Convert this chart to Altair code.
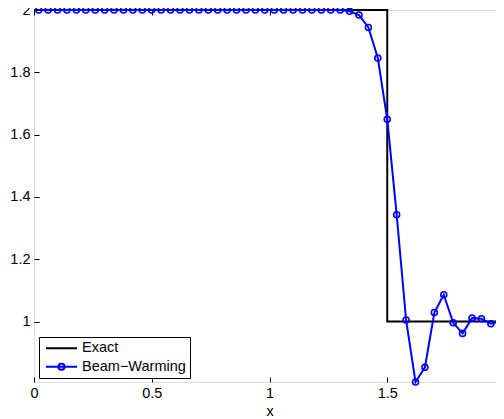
import altair as alt
import pandas as pd

series = ["Exact", "Beam\u2212Warming"]
series_colors = ["black", "blue"]

exact_x = [0.0, 1.5, 1.5, 2.0]
exact_y = [2.0, 2.0, 1.0, 1.0]

bw_x = [0.02, 0.06, 0.10, 0.14, 0.18, 0.22, 0.26, 0.30, 0.34, 0.38,
        0.42, 0.46, 0.50, 0.54, 0.58, 0.62, 0.66, 0.70, 0.74, 0.78,
        0.82, 0.86, 0.90, 0.94, 0.98, 1.02, 1.06, 1.10, 1.14, 1.18,
        1.22, 1.26, 1.30, 1.34, 1.38, 1.42, 1.46, 1.50, 1.54, 1.58,
        1.62, 1.66, 1.70, 1.74, 1.78, 1.82, 1.86, 1.90, 1.94, 1.98]
bw_y = [2.0, 2.0, 2.0, 2.0, 2.0, 2.0, 2.0, 2.0, 2.0, 2.0,
        2.0, 2.0, 2.0, 2.0, 2.0, 2.0, 2.0, 2.0, 2.0, 2.0,
        2.0, 2.0, 2.0, 2.0, 2.0, 2.0, 2.0, 2.0, 2.0, 2.0,
        2.0, 2.0, 2.0, 1.996, 1.984, 1.944, 1.846, 1.649, 1.343, 1.005,
        0.806, 0.853, 1.029, 1.086, 0.996, 0.962, 1.011, 1.009, 0.993, 1.001]

x_ticks = [0, 0.5, 1, 1.5, 2]
y_ticks = [1, 1.2, 1.4, 1.6, 1.8, 2]

exact_df = pd.DataFrame({"x": exact_x, "y": exact_y,
                         "o": list(range(len(exact_x)))})
bw_df = pd.DataFrame({"x": bw_x, "y": bw_y, "o": list(range(len(bw_x)))})
legend_df = pd.DataFrame({"s": series})

FONT = "Liberation Sans"
FS = 14.5

xscale = alt.Scale(domain=[0, 2], nice=False, zero=False)
yscale = alt.Scale(domain=[0.806, 2], nice=False, zero=False)
cscale = alt.Scale(domain=series, range=series_colors)

line_path = "M-1,0L1,0"
circle_path = ("M-1,0L1,0M-0.2,0A0.2,0.2,0,1,1,0.2,0"
               "A0.2,0.2,0,1,1,-0.2,0")
sscale = alt.Scale(domain=series, range=[line_path, circle_path])

legend = alt.Legend(
    title=None, orient="none", legendX=5, legendY=327,
    fillColor="white", strokeColor="black", padding=4, cornerRadius=0,
    labelFont=FONT, labelFontSize=FS, labelColor="black",
    symbolSize=961, symbolStrokeWidth=2, clipHeight=14.5, rowPadding=2.5,
    symbolOffset=2, labelOffset=4, symbolOpacity=1,
)

axis_common = dict(domain=False, grid=False, tickSize=5, tickColor="black",
                   tickWidth=1, offset=-5, labelFont=FONT, labelFontSize=FS,
                   labelColor="black", labelFlush=False, labelOverlap=False,
                   format="~g")

x_axis_bottom = alt.Axis(orient="bottom", values=x_ticks, labelPadding=4,
                         title="x", titleFont=FONT, titleFontSize=FS,
                         titleFontWeight="normal", titleColor="black",
                         titlePadding=5, **axis_common)
y_axis_left = alt.Axis(orient="left", values=y_ticks, labelPadding=4,
                       title=None, **axis_common)
x_axis_top = alt.Axis(orient="top", values=x_ticks, labels=False, title=None,
                      **axis_common)
y_axis_right = alt.Axis(orient="right", values=y_ticks, labels=False,
                        title=None, **axis_common)

exact = alt.Chart(exact_df).mark_line(
    strokeWidth=2, clip=False, color=series_colors[0]
).encode(
    x=alt.X("x:Q", scale=xscale, axis=x_axis_bottom),
    y=alt.Y("y:Q", scale=yscale, axis=y_axis_left),
    order="o:Q",
)

bw = alt.Chart(bw_df).mark_line(
    strokeWidth=2, clip=False, color=series_colors[1],
    point=alt.OverlayMarkDef(filled=False, size=36, strokeWidth=1.6,
                             fill="transparent", color=series_colors[1]),
).encode(
    x=alt.X("x:Q", scale=xscale, axis=x_axis_top),
    y=alt.Y("y:Q", scale=yscale, axis=y_axis_right),
    order="o:Q",
)

leg = alt.Chart(legend_df).mark_point(
    filled=False, opacity=0, size=961, strokeWidth=2
).encode(
    color=alt.Color("s:N", scale=cscale, legend=legend),
    shape=alt.Shape("s:N", scale=sscale, legend=legend),
)

chart = alt.layer(exact, bw, leg).resolve_axis(
    x="independent", y="independent"
).properties(
    width=471, height=372,
    autosize=alt.AutoSizeParams(type="none"),
    padding={"left": 26, "top": 2, "right": -9, "bottom": 37},
).configure_view(
    stroke="black", strokeWidth=1
).configure(background="white")

chart.save("out.html", embed_options={"renderer": "svg", "actions": False})
